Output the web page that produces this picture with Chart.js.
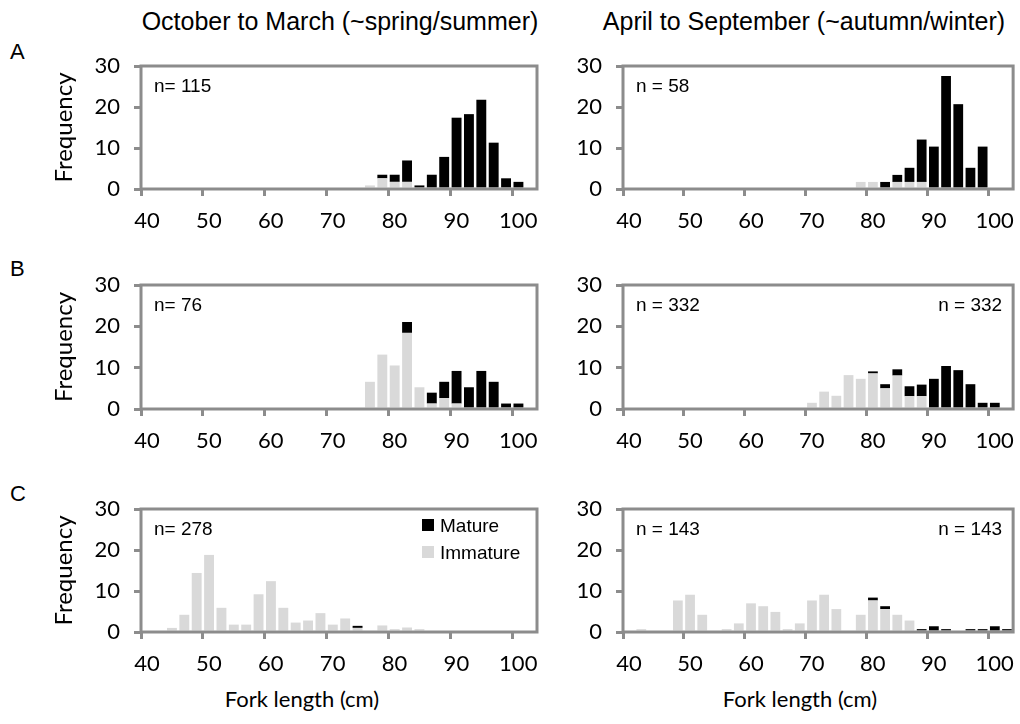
<!DOCTYPE html>
<html>
<head>
<meta charset="utf-8">
<script src="https://cdn.jsdelivr.net/npm/chart.js@4.4.1/dist/chart.umd.min.js"></script>
<style>
  body { margin: 0; background: #fff; }
  #page { position: relative; width: 1020px; height: 724px; overflow: hidden; background: #fff; }
  canvas { position: absolute; }
  .txt { position: absolute; color: #000; white-space: nowrap; line-height: 1; }
  .arial { font-family: "Liberation Sans", Arial, sans-serif; }
  .lato { font-family: Lato, sans-serif; }
</style>
</head>
<body>
<div id="page">
  <div class="txt arial" style="left:90px;width:500px;text-align:center;top:9px;font-size:25px">October to March (~spring/summer)</div>
  <div class="txt arial" style="left:554px;width:500px;text-align:center;top:9px;font-size:25px">April to September (~autumn/winter)</div>
  <div class="txt arial" style="left:10px;top:41px;font-size:22px">A</div>
  <div class="txt arial" style="left:10px;top:258px;font-size:22px">B</div>
  <div class="txt arial" style="left:10px;top:483px;font-size:22px">C</div>
  <div class="txt lato" style="left:152px;width:300px;text-align:center;top:688px;font-size:22px">Fork length (cm)</div>
  <div class="txt lato" style="left:650px;width:300px;text-align:center;top:688px;font-size:22px">Fork length (cm)</div>

  <canvas id="aLeft"></canvas>
  <canvas id="aRight"></canvas>
  <canvas id="bLeft"></canvas>
  <canvas id="bRight"></canvas>
  <canvas id="cLeft"></canvas>
  <canvas id="cRight"></canvas>
</div>

<script>
// 2 cm length classes, given by their mid-point (cm)
const binCentres = [41, 43, 45, 47, 49, 51, 53, 55, 57, 59,
                    61, 63, 65, 67, 69, 71, 73, 75, 77, 79,
                    81, 83, 85, 87, 89, 91, 93, 95, 97, 99,
                    101, 103];
const xTicks = [40, 50, 60, 70, 80, 90, 100];
const yTicks = [0, 10, 20, 30];

// frequency (%) per length class
// A - October to March
const aLeftImmature = [0, 0, 0, 0, 0, 0, 0, 0, 0, 0,
                       0, 0, 0, 0, 0, 0, 0, 0, 0.87, 2.61,
                       1.74, 1.74, 0, 0, 0, 0, 0, 0, 0, 0,
                       0, 0];
const aLeftMature = [0, 0, 0, 0, 0, 0, 0, 0, 0, 0,
                     0, 0, 0, 0, 0, 0, 0, 0, 0, 0.87,
                     1.74, 5.22, 0.87, 3.48, 7.83, 17.39, 18.26, 21.74, 11.30, 2.61,
                     1.74, 0];
// A - April to September
const aRightImmature = [0, 0, 0, 0, 0, 0, 0, 0, 0, 0,
                        0, 0, 0, 0, 0, 0, 0, 0, 0, 1.72,
                        1.72, 0, 1.72, 1.72, 1.72, 0, 0, 0, 0, 0,
                        0, 0];
const aRightMature = [0, 0, 0, 0, 0, 0, 0, 0, 0, 0,
                      0, 0, 0, 0, 0, 0, 0, 0, 0, 0,
                      0, 1.72, 1.72, 3.45, 10.34, 10.34, 27.59, 20.69, 5.17, 10.34,
                      0, 0];
// B - October to March
const bLeftImmature = [0, 0, 0, 0, 0, 0, 0, 0, 0, 0,
                       0, 0, 0, 0, 0, 0, 0, 0, 6.58, 13.16,
                       10.53, 18.42, 5.26, 1.32, 2.63, 1.32, 0, 0, 0, 0,
                       0, 0];
const bLeftMature = [0, 0, 0, 0, 0, 0, 0, 0, 0, 0,
                     0, 0, 0, 0, 0, 0, 0, 0, 0, 0,
                     0, 2.63, 0, 2.63, 3.95, 7.89, 5.26, 9.21, 6.58, 1.32,
                     1.32, 0];
// B - April to September
const bRightImmature = [0, 0, 0, 0, 0, 0, 0, 0, 0, 0,
                        0, 0, 0, 0, 0, 1.5, 4.2, 3.2, 8.2, 7.3,
                        8.6, 5.0, 8.1, 3.1, 3.1, 0, 0, 0, 0, 0,
                        0, 0];
const bRightMature = [0, 0, 0, 0, 0, 0, 0, 0, 0, 0,
                      0, 0, 0, 0, 0, 0, 0, 0, 0, 0,
                      0.5, 1.0, 1.5, 2.4, 2.8, 7.3, 10.4, 9.4, 6.0, 1.5,
                      1.5, 0];
// C - October to March
const cLeftImmature = [0, 0, 1.0, 4.2, 14.4, 18.8, 5.9, 1.8, 1.8, 9.2,
                       12.4, 5.9, 2.3, 2.8, 4.6, 1.8, 3.3, 1.0, 0, 1.6,
                       0.7, 1.1, 0.7, 0, 0, 0, 0, 0, 0, 0,
                       0, 0];
const cLeftMature = [0, 0, 0, 0, 0, 0, 0, 0, 0, 0,
                     0, 0, 0, 0, 0, 0, 0, 0.5, 0, 0,
                     0, 0, 0, 0, 0, 0, 0, 0, 0, 0,
                     0, 0];
// C - April to September
const cRightImmature = [0, 0.7, 0, 0, 7.69, 9.09, 4.2, 0, 0.7, 2.1,
                        6.99, 6.29, 4.9, 0.7, 2.1, 7.69, 9.09, 5.59, 0, 4.2,
                        7.69, 5.59, 4.2, 2.8, 0, 0, 0, 0, 0, 0,
                        0, 0];
const cRightMature = [0, 0, 0, 0, 0, 0, 0, 0, 0, 0,
                      0, 0, 0, 0, 0, 0, 0, 0, 0, 0,
                      0.7, 0.7, 0, 0, 0.7, 1.4, 0.7, 0, 0.7, 0.7,
                      1.4, 0.7];

const axisGrey = '#8c8c8c';
const matureColour = '#000000';
const immatureColour = '#d9d9d9';

Chart.defaults.font.family = 'Lato';
Chart.defaults.color = '#000';

// grey box round the plot area
const framePlugin = {
  id: 'frame',
  afterDatasetsDraw(chart) {
    const a = chart.chartArea;
    const ctx = chart.ctx;
    ctx.save();
    ctx.strokeStyle = axisGrey;
    ctx.lineWidth = 3;
    ctx.strokeRect(a.left, a.top, a.right - a.left, a.bottom - a.top);
    ctx.restore();
  }
};

// sample size labels and legend inside the panel
const panelTextPlugin = {
  id: 'panelText',
  afterDraw(chart, args, opts) {
    const a = chart.chartArea;
    const ctx = chart.ctx;
    ctx.save();
    ctx.fillStyle = '#000';
    ctx.font = '19px "Liberation Sans", Arial, sans-serif';
    ctx.textBaseline = 'alphabetic';
    if (opts.nLeft) {
      ctx.textAlign = 'left';
      ctx.fillText(opts.nLeft, a.left + 13, a.top + 26);
    }
    if (opts.nRight) {
      ctx.textAlign = 'right';
      ctx.fillText(opts.nRight, a.right - 11, a.top + 26);
    }
    if (opts.legend) {
      ctx.textAlign = 'left';
      ctx.fillStyle = matureColour;
      ctx.fillRect(a.left + 281, a.top + 10, 12, 12);
      ctx.fillStyle = immatureColour;
      ctx.fillRect(a.left + 281, a.top + 37, 12, 12);
      ctx.fillStyle = '#000';
      ctx.fillText('Mature', a.left + 299, a.top + 23);
      ctx.fillText('Immature', a.left + 299, a.top + 50);
    }
    ctx.restore();
  }
};

function makePanel(id, immature, mature, o) {
  const canvas = document.getElementById(id);
  canvas.width = o.w;
  canvas.height = o.h;
  canvas.style.left = o.x + 'px';
  canvas.style.top = o.y + 'px';

  return new Chart(canvas, {
    type: 'bar',
    data: {
      datasets: [{
        label: 'Immature',
        data: binCentres.map((c, i) => ({ x: c, y: immature[i] })),
        backgroundColor: immatureColour
      }, {
        label: 'Mature',
        data: binCentres.map((c, i) => ({ x: c, y: mature[i] })),
        backgroundColor: matureColour
      }]
    },
    options: {
      responsive: false,
      animation: false,
      layout: { padding: { top: 30, right: o.padRight, left: 0, bottom: 0 } },
      datasets: { bar: { barPercentage: 0.8, categoryPercentage: 1 } },
      plugins: {
        legend: { display: false },
        tooltip: { enabled: false },
        panelText: { nLeft: o.nLeft, nRight: o.nRight, legend: o.legend }
      },
      scales: {
        x: {
          type: 'linear',
          min: 40,
          max: 104,
          offset: false,
          stacked: true,
          border: { display: false },
          grid: { offset: false, drawOnChartArea: false, drawTicks: true, tickLength: 7, lineWidth: 3, color: axisGrey },
          ticks: { font: { size: 22 }, color: '#000', padding: 12, labelOffset: 6, maxRotation: 0, autoSkip: false },
          afterBuildTicks: s => { s.ticks = xTicks.map(v => ({ value: v })); },
          afterFit: s => { s.height = 50; }
        },
        y: {
          min: 0,
          max: 30,
          stacked: true,
          border: { display: false },
          grid: { drawOnChartArea: false, drawTicks: true, tickLength: 7, lineWidth: 3, color: axisGrey },
          ticks: { font: { size: 22 }, color: '#000', padding: 14 },
          afterBuildTicks: s => { s.ticks = yTicks.map(v => ({ value: v })); },
          afterFit: s => { s.width = o.axisWidth; },
          title: {
            display: o.freqTitle,
            text: 'Frequency',
            font: { size: 24 },
            color: '#000',
            padding: { top: 50, bottom: 0 }
          }
        }
      }
    },
    plugins: [framePlugin, panelTextPlugin]
  });
}

// left column: plot area x 141..537, right column: 623..1018
const leftCol = { x: 0, w: 560, axisWidth: 141, padRight: 23, freqTitle: true };
const rightCol = { x: 560, w: 460, axisWidth: 63, padRight: 2, freqTitle: false };

makePanel('aLeft', aLeftImmature, aLeftMature, { ...leftCol, y: 36, h: 203, nLeft: 'n= 115' });
makePanel('aRight', aRightImmature, aRightMature, { ...rightCol, y: 36, h: 203, nLeft: 'n = 58' });
makePanel('bLeft', bLeftImmature, bLeftMature, { ...leftCol, y: 255, h: 204, nLeft: 'n= 76' });
makePanel('bRight', bRightImmature, bRightMature, { ...rightCol, y: 255, h: 204, nLeft: 'n = 332', nRight: 'n = 332' });
makePanel('cLeft', cLeftImmature, cLeftMature, { ...leftCol, y: 479, h: 203, nLeft: 'n= 278', legend: true });
makePanel('cRight', cRightImmature, cRightMature, { ...rightCol, y: 479, h: 203, nLeft: 'n = 143', nRight: 'n = 143' });
</script>
</body>
</html>
